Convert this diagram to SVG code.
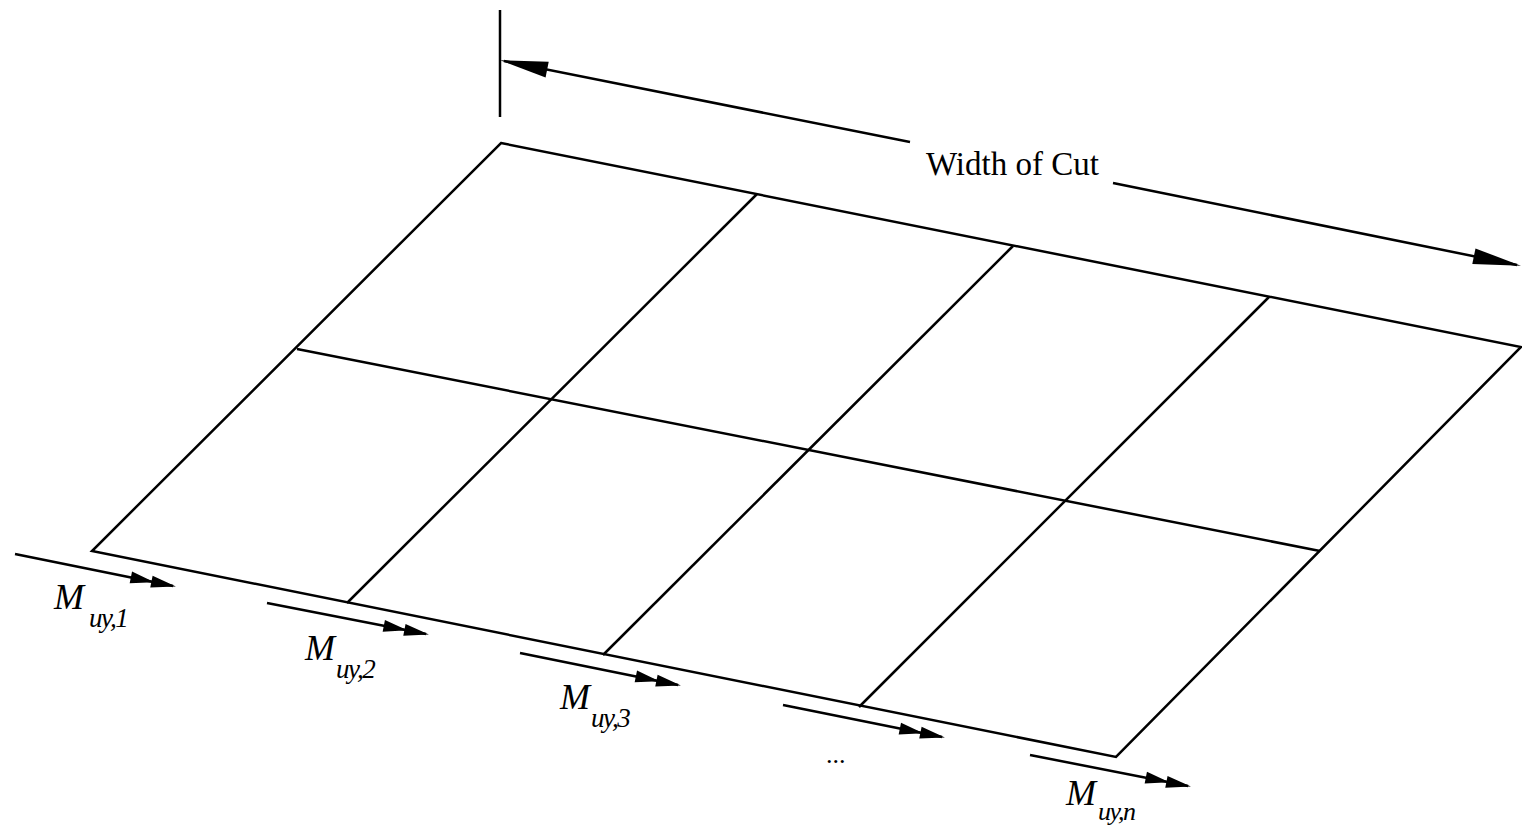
<svg xmlns="http://www.w3.org/2000/svg" width="1522" height="828" viewBox="0 0 1522 828">
<defs>
<style>
.ln{stroke:#000;stroke-width:2.5;fill:none;stroke-linecap:butt}
.lbl{font-family:"Liberation Serif","DejaVu Serif","Times New Roman",serif;fill:#000}
.it{font-style:italic}
</style>
<marker id="single" markerUnits="userSpaceOnUse" markerWidth="60" markerHeight="20" viewBox="-50 -10 52 20" refX="-4" refY="0" orient="auto" overflow="visible">
<path d="M0,0 L-48,-8 L-48,8 Z" fill="#000"/>
</marker>
<marker id="double" markerUnits="userSpaceOnUse" markerWidth="60" markerHeight="16" viewBox="-50 -8 52 16" refX="-3" refY="0" orient="auto" overflow="visible">
<path d="M0,0 L-25,-6 L-25,6 Z M-22,0 L-46,-6 L-46,6 Z" fill="#000"/>
</marker>
</defs>
<rect width="1522" height="828" fill="#fff"/>
<g id="grid">
<path class="ln" d="M501,143 L1521,347 L1116,757 L92,551 Z"/>
<path class="ln" d="M297,349 L1320,551"/>
<path class="ln" d="M757,194 L347,603"/>
<path class="ln" d="M1013,246 L603,655"/>
<path class="ln" d="M1269,297 L859,707"/>
</g>
<g id="width-of-cut">
<path class="ln" d="M500,10 L500,117"/>
<text class="lbl" x="926" y="175" font-size="33">Width of Cut</text>
</g>
<g id="connectors">
<line class="ln" x1="910" y1="142" x2="504" y2="61" marker-end="url(#single)"/>
<line class="ln" x1="1113" y1="183" x2="1517" y2="265" marker-end="url(#single)"/>
<line class="ln" x1="15" y1="554" x2="173" y2="586" marker-end="url(#double)"/>
<line class="ln" x1="267" y1="603" x2="426" y2="634" marker-end="url(#double)"/>
<line class="ln" x1="520" y1="653" x2="678" y2="685" marker-end="url(#double)"/>
<line class="ln" x1="783" y1="705" x2="942" y2="737" marker-end="url(#double)"/>
<line class="ln" x1="1030" y1="755" x2="1188" y2="786" marker-end="url(#double)"/>
</g>
<g id="label-m1">
<text class="lbl it" x="54" y="609" font-size="36">M</text>
<text class="lbl it" x="89" y="627" font-size="27" letter-spacing="-1.5">uy,1</text>
</g>
<g id="label-m2">
<text class="lbl it" x="305" y="660" font-size="36">M</text>
<text class="lbl it" x="336" y="678" font-size="27" letter-spacing="-1.5">uy,2</text>
</g>
<g id="label-m3">
<text class="lbl it" x="560" y="709" font-size="36">M</text>
<text class="lbl it" x="591" y="727" font-size="27" letter-spacing="-1.5">uy,3</text>
</g>
<g id="label-dots">
<text class="lbl" x="826" y="763" font-size="26">...</text>
</g>
<g id="label-mn">
<text class="lbl it" x="1066" y="805" font-size="36">M</text>
<text class="lbl it" x="1098" y="820" font-size="26" letter-spacing="-1.5">uy,n</text>
</g>
</svg>
